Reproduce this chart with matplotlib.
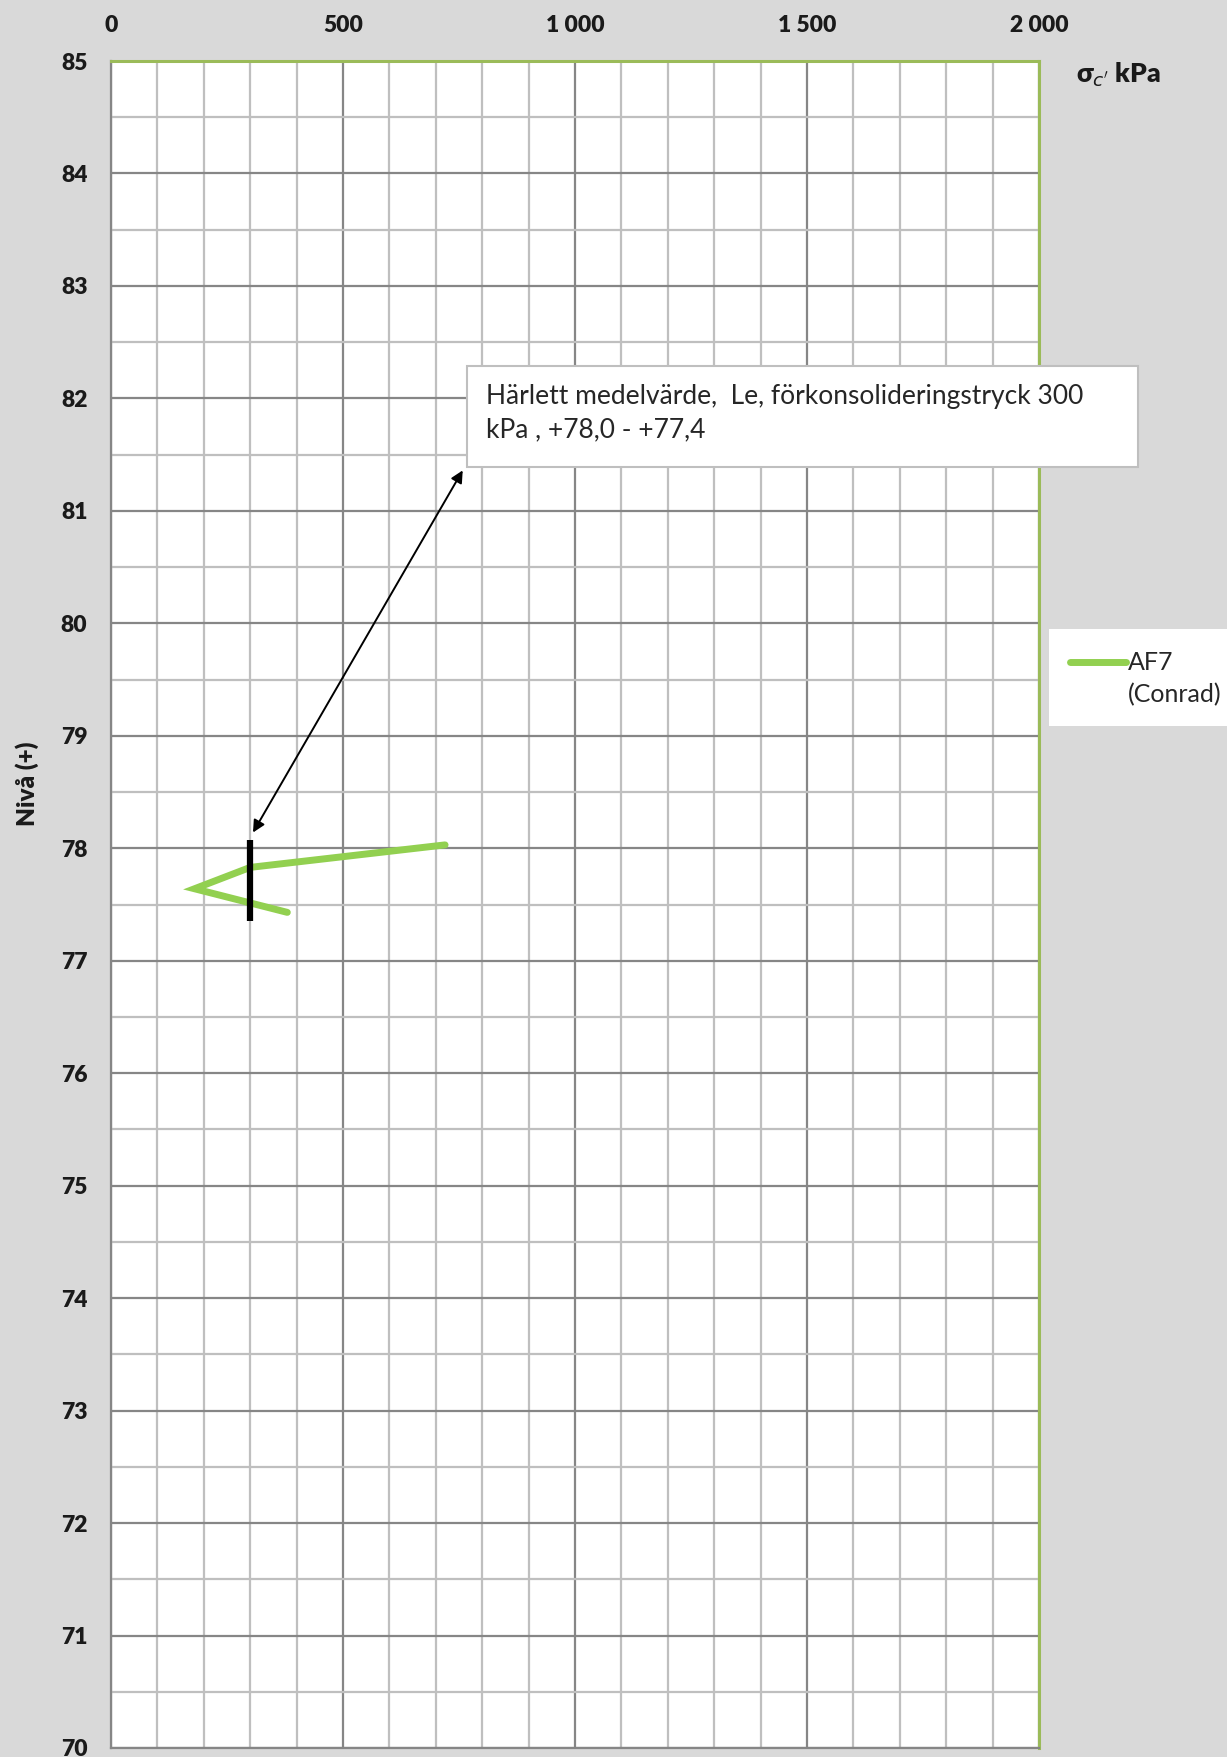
import matplotlib
matplotlib.use("Agg")

import matplotlib.pyplot as plt
import matplotlib.ticker as ticker
from matplotlib.patches import Rectangle
from matplotlib.lines import Line2D

# Förkonsolideringstryck, AF7 (Conrad)
sigma_kpa = [720, 300, 180, 380]
niva = [78.03, 77.83, 77.64, 77.43]

# Härlett medelvärde
medel_kpa = 300
medel_niva = [78.07, 77.35]

# Pil mellan textruta och medelvärde
pil_start = (306, 78.14)
pil_slut = (758, 81.36)

x_ticks = [0, 500, 1000, 1500, 2000]
x_ticklabels = ["0", "500", "1 000", "1 500", "2 000"]
y_ticks = list(range(70, 86))

plt.rcParams["font.family"] = ["Lato", "DejaVu Sans"]

W, H, dpi = 1227, 1757, 100
fig = plt.figure(figsize=(W / dpi, H / dpi), dpi=dpi, facecolor="#d9d9d9")
ax = fig.add_axes([111 / W, 1 - 1748 / H, (1039 - 111) / W, (1748 - 61) / H])
ax.set_facecolor("white")

ax.set_xlim(0, 2000)
ax.set_ylim(70, 85)

ax.xaxis.set_major_locator(ticker.FixedLocator(x_ticks))
ax.xaxis.set_minor_locator(ticker.MultipleLocator(100))
ax.yaxis.set_major_locator(ticker.FixedLocator(y_ticks))
ax.yaxis.set_minor_locator(ticker.MultipleLocator(0.5))
ax.set_xticklabels(x_ticklabels)
ax.xaxis.tick_top()

ax.grid(True, which="minor", color="#bfbfbf", linewidth=1.6)
ax.grid(True, which="major", color="#868686", linewidth=1.6)
ax.set_axisbelow(True)

ax.tick_params(axis="both", which="both", length=0)
ax.tick_params(axis="x", pad=18, labelsize=16.5, colors="#1a1a1a")
ax.tick_params(axis="y", pad=17, labelsize=16.5, colors="#1a1a1a")
for lab in ax.get_xticklabels() + ax.get_yticklabels():
    lab.set_fontweight("heavy")

for side in ("left", "bottom"):
    ax.spines[side].set_color("#868686")
    ax.spines[side].set_linewidth(1.6)
for side in ("top", "right"):
    ax.spines[side].set_color("#9bbb59")
    ax.spines[side].set_linewidth(2.2)

ax.plot(sigma_kpa, niva, color="#92d050", linewidth=5, solid_capstyle="round",
        solid_joinstyle="miter", zorder=3)
ax.plot([medel_kpa, medel_kpa], medel_niva, color="black", linewidth=4.5,
        solid_capstyle="butt", zorder=4)

ax.annotate("", xy=pil_start, xytext=pil_slut,
            arrowprops=dict(arrowstyle="<|-|>", color="black", lw=1.4,
                            mutation_scale=18, shrinkA=0, shrinkB=0), zorder=5)

# Textruta
fig.patches.append(Rectangle((467 / W, 1 - 467 / H), (1138 - 467) / W, (467 - 366) / H,
                             transform=fig.transFigure, facecolor="white",
                             edgecolor="#bfbfbf", linewidth=1.5, zorder=6))
fig.text(486 / W, 1 - 384 / H,
         "Härlett medelvärde,  Le, förkonsolideringstryck 300\nkPa , +78,0 - +77,4",
         ha="left", va="top", fontsize=19, color="#262626", linespacing=1.4, zorder=7)

# Legend
fig.patches.append(Rectangle((1049 / W, 1 - 726 / H), (1227 - 1049) / W, (726 - 629) / H,
                             transform=fig.transFigure, facecolor="white",
                             edgecolor="none", zorder=6))
fig.lines.append(Line2D([1070 / W, 1126 / W], [1 - 662 / H, 1 - 662 / H],
                        transform=fig.transFigure, color="#92d050", linewidth=5,
                        solid_capstyle="round", zorder=7))
fig.text(1128 / W, 1 - 662 / H, "AF7", ha="left", va="center", fontsize=18,
         color="#262626", zorder=7)
fig.text(1128 / W, 1 - 695 / H, "(Conrad)", ha="left", va="center", fontsize=18,
         color="#262626", zorder=7)

fig.text(1076 / W, 1 - 75 / H, "σ$_{c'}$ kPa", ha="left", va="center",
         fontsize=19, fontweight="heavy", color="#1a1a1a")
fig.text(27 / W, 1 - 784 / H, "Nivå (+)", ha="center", va="center", rotation=90,
         fontsize=17.5, fontweight="heavy", color="#1a1a1a")

fig.savefig("out.png", dpi=dpi, facecolor=fig.get_facecolor())
